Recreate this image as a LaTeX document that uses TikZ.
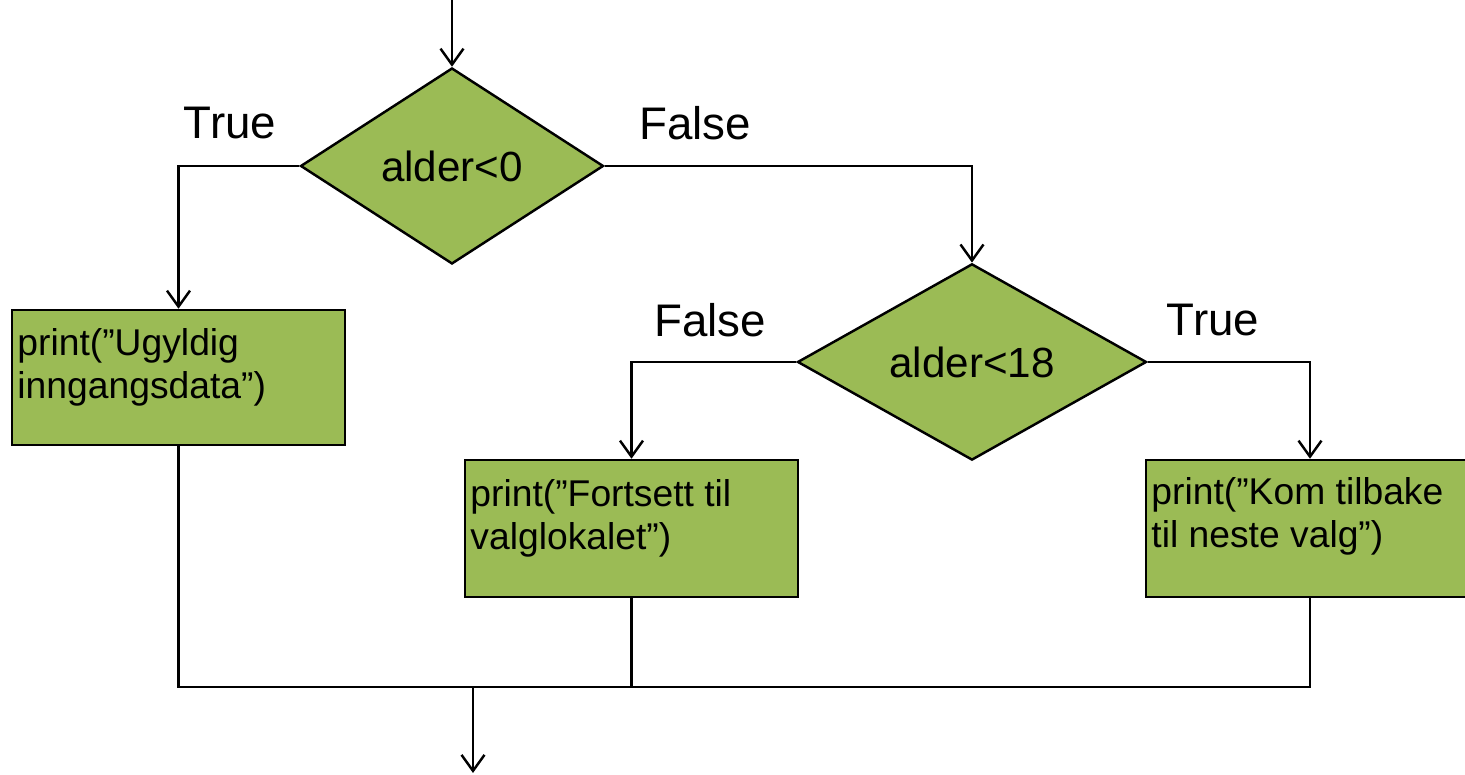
\documentclass[tikz,border=0pt]{standalone}
\usepackage{fontspec}
\setmainfont{Liberation Sans}
\usepackage{tikz}
\usetikzlibrary{arrows,arrows.meta}
\usetikzlibrary{shapes,shapes.geometric}
\usetikzlibrary{calc}
\definecolor{valggreen}{RGB}{155,187,85}
\tikzstyle{decision}=[diamond,draw,fill=valggreen,line width=0.7pt,inner sep=0pt,font=\fontsize{12}{14}\selectfont]
\tikzstyle{printbox}=[rectangle,draw,fill=valggreen,line width=0.7pt,inner sep=0pt]
\tikzstyle{boxtext}=[anchor=base west,inner sep=0pt,align=left,font=\fontsize{10.6}{12.4}\selectfont]
\tikzstyle{branch}=[font=\fontsize{13}{15}\selectfont]
\tikzstyle{flow}=[line width=0.7pt,-{Straight Barb[length=1.6mm,width=2.3mm]}]
\tikzstyle{joinline}=[line width=0.7pt]

\begin{document}
\begin{tikzpicture}
	\useasboundingbox (0,0) rectangle (14.65,7.75);
	\node[decision,minimum width=3.03cm,minimum height=1.96cm] (d1) at (4.52,6.09) {alder<0};
	\node[decision,minimum width=3.49cm,minimum height=1.95cm] (d2) at (9.72,4.13) {alder<18};
	\node[printbox,minimum width=3.33cm,minimum height=1.35cm] (box1) at (1.785,3.975) {};
	\node[printbox,minimum width=3.33cm,minimum height=1.37cm] (box2) at (6.315,2.465) {};
	\node[printbox,minimum width=3.28cm,minimum height=1.37cm] (box3) at (13.10,2.465) {};
	% text sits on the last line's baseline
	\node[boxtext] (t1) at ($(box1.north west)+(0.06,-0.90)$) {print(”Ugyldig\\inngangsdata”)};
	\node[boxtext] (t2) at ($(box2.north west)+(0.06,-0.91)$) {print(”Fortsett til\\valglokalet”)};
	\node[boxtext] (t3) at ($(box3.north west)+(0.06,-0.89)$) {print(”Kom tilbake\\til neste valg”)};
	\node[branch] (true1) at (2.30,6.52) {True};
	\node[branch] (false1) at (6.95,6.52) {False};
	\node[branch] (false2) at (7.10,4.55) {False};
	\node[branch] (true2) at (12.13,4.55) {True};
	\coordinate (start) at (4.52,7.75);
	\coordinate (merge) at (4.73,0.88);
	\coordinate (exit) at (4.73,0.02);
	% branches
	\draw[flow] (start) -- (d1.north);
	\draw[flow] (d1.west) -| (box1.north);
	\draw[flow] (d1.east) -| (d2.north);
	\draw[flow] (d2.west) -| (box2.north);
	\draw[flow] (d2.east) -| (box3.north);
	% back together
	\draw[joinline] (box1.south) |- (merge);
	\draw[joinline] (box2.south) |- (merge);
	\draw[joinline] (box3.south) |- (merge);
	\draw[flow] (merge) -- (exit);
\end{tikzpicture}
\end{document}
